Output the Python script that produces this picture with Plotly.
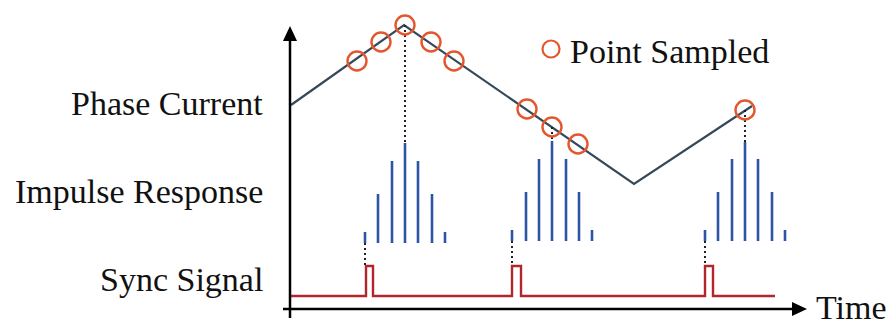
import plotly.graph_objects as go

# ---- data (pixel-like units, y grows downward) ----
wave_x = [291, 404, 634, 752]
wave_y = [105, 25, 184, 106]

sample_x = [357, 381, 405, 431, 454, 527, 552, 578, 745]
sample_y = [61, 42, 25, 42, 61, 109, 127, 144, 110]

stem_groups_x = [
    [365, 378, 392, 405, 418, 432, 445],
    [512, 526, 539, 552, 566, 579, 592],
    [705, 718, 732, 745, 758, 772, 785],
]
stem_tops = [
    [232, 194, 161, 143, 161, 194, 232],
    [230, 192, 159, 141, 159, 192, 230],
    [230, 192, 159, 142, 159, 192, 230],
]
stem_base = [243, 241, 241]

sync_start, sync_end = 291, 775
sync_low, sync_high = 296, 266
pulse_starts = [366, 512, 705]
pulse_ends = [373, 521, 713]

labels = ["Phase Current", "Impulse Response", "Sync Signal"]
label_y = [103.5, 191, 279]

LINE_C = "#34495a"
CIRC_C = "#e4572e"
STEM_C = "#2d55a6"
SYNC_C = "#b0262b"
FONT = "Liberation Serif, Times New Roman, serif"
FS = 34

fig = go.Figure()

fig.add_trace(go.Scatter(x=wave_x, y=wave_y, mode="lines",
                         line=dict(color=LINE_C, width=2.2), hoverinfo="skip"))

dx, dy = [], []
for g in range(3):
    cx = stem_groups_x[g][3]
    dx += [cx, cx, None]
    dy += [sample_y[[2, 6, 8][g]], stem_tops[g][3], None]
    fx = stem_groups_x[g][0]
    dx += [fx, fx, None]
    dy += [stem_base[g], sync_high, None]
fig.add_trace(go.Scatter(x=dx, y=dy, mode="lines",
                         line=dict(color="#222222", width=2, dash="2px,3px"), hoverinfo="skip"))

sx, sy = [], []
for g in range(3):
    for x, t in zip(stem_groups_x[g], stem_tops[g]):
        sx += [x, x, None]
        sy += [stem_base[g], t, None]
fig.add_trace(go.Scatter(x=sx, y=sy, mode="lines",
                         line=dict(color=STEM_C, width=2.6), hoverinfo="skip"))

yx, yy = [sync_start], [sync_low]
for a, b in zip(pulse_starts, pulse_ends):
    yx += [a, a, b, b]
    yy += [sync_low, sync_high, sync_high, sync_low]
yx.append(sync_end); yy.append(sync_low)
fig.add_trace(go.Scatter(x=yx, y=yy, mode="lines",
                         line=dict(color=SYNC_C, width=2.4), hoverinfo="skip"))

fig.add_trace(go.Scatter(x=sample_x, y=sample_y, mode="markers",
                         marker=dict(symbol="circle-open", size=19,
                                     line=dict(color=CIRC_C, width=2.4), color=CIRC_C),
                         hoverinfo="skip"))

fig.add_trace(go.Scatter(x=[551], y=[49], mode="markers",
                         marker=dict(symbol="circle-open", size=17,
                                     line=dict(color=CIRC_C, width=2.2), color=CIRC_C),
                         hoverinfo="skip"))

shapes = [
    dict(type="line", x0=290, x1=290, y0=318, y1=38, line=dict(color="black", width=2.5)),
    dict(type="path", path="M 283,41 L 290,26 L 297,41 Z", fillcolor="black", line=dict(width=0)),
    dict(type="line", x0=283, x1=796, y0=309, y1=309, line=dict(color="black", width=2.5)),
    dict(type="path", path="M 792,302 L 807,309 L 792,316 Z", fillcolor="black", line=dict(width=0)),
]

annotations = []
for t, y in zip(labels, label_y):
    annotations.append(dict(x=264, y=y, text=t, showarrow=False, xanchor="right",
                            yanchor="middle", borderpad=0,
                            font=dict(family=FONT, size=FS, color="#111")))
annotations.append(dict(x=569, y=51, text="Point Sampled", showarrow=False, xanchor="left",
                        yanchor="middle", borderpad=0,
                        font=dict(family=FONT, size=FS, color="#111")))
annotations.append(dict(x=888, y=307.5, text="Time", showarrow=False, xanchor="right",
                        yanchor="middle", borderpad=0,
                        font=dict(family=FONT, size=FS, color="#111")))

fig.update_layout(
    width=890, height=321, margin=dict(l=0, r=0, t=0, b=0),
    paper_bgcolor="white", plot_bgcolor="white", showlegend=False,
    xaxis=dict(range=[0, 890], visible=False, fixedrange=True),
    yaxis=dict(range=[321, 0], visible=False, fixedrange=True),
    shapes=shapes, annotations=annotations,
)

fig.write_html("out.html")
